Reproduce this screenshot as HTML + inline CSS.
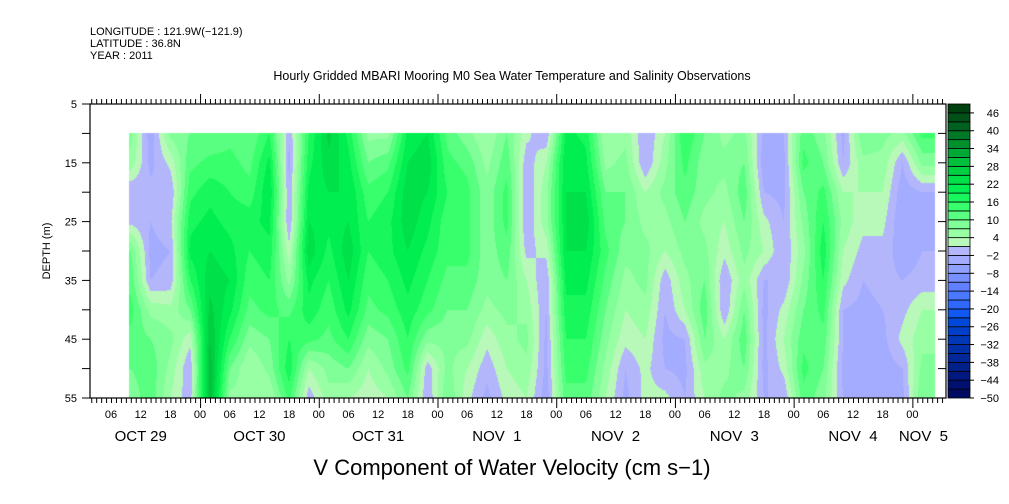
<!DOCTYPE html>
<html><head><meta charset="utf-8">
<style>
html,body{margin:0;padding:0;background:#fff;}
#wrap{position:relative;width:1009px;height:504px;overflow:hidden;font-family:"Liberation Sans",sans-serif;}
#heat{position:absolute;left:0;top:0;}
#svg{position:absolute;left:0;top:0;}
text{font-family:"Liberation Sans",sans-serif;fill:#000;}
</style></head>
<body>
<div id="wrap">
<canvas id="heat" width="1009" height="504"></canvas>
<svg id="svg" width="1009" height="504"></svg>
</div>
<script>
// ---- data ----
const hours = [-14,-10,-6,-2,2,6,10,14,18,22,26,30,34,38,42,46,50,54,58,62,66,70,74,78,82,86,90,94,98,102,106,110,114,118,122,126,130,134,138,142,146];
const depths = [10,15,20,25,30,35,40,45,50,55];
const values = [
[8,6,-2,0,10,12,14,12,10,8],
[-4,-3,-1,-2,-3,-2,6,10,12,12],
[8,2,-2,0,-2,-1,5,8,6,4],
[10,12,15,18,20,16,10,2,-2,-1],
[10,14,18,20,22,24,26,28,30,30],
[12,14,16,18,20,22,20,16,10,6],
[10,12,14,18,16,14,12,8,4,6],
[16,20,22,20,18,16,14,10,8,4],
[-2,-3,-2,-2,2,6,12,16,18,14],
[16,18,20,22,24,20,18,14,4,-1],
[26,24,22,20,18,16,14,12,8,6],
[18,20,22,22,24,22,20,16,10,4],
[6,10,14,16,16,14,12,8,4,2],
[6,12,16,18,18,16,14,10,8,4],
[20,22,24,24,22,20,18,16,14,10],
[22,24,22,20,18,16,14,8,-1,-2],
[12,14,16,14,14,12,10,8,8,10],
[8,12,14,14,14,12,10,8,4,2],
[4,6,8,8,8,8,6,2,-1,-3],
[10,12,14,14,12,10,8,6,4,2],
[2,-1,-2,-2,0,4,6,8,6,4],
[-2,4,6,6,2,-2,-2,-3,-3,-4],
[20,22,22,22,22,20,18,16,14,12],
[18,20,22,24,22,20,18,16,14,12],
[4,6,10,12,14,12,10,8,6,4],
[6,8,10,10,8,6,4,2,-2,-3],
[-2,-2,4,6,8,8,6,4,2,2],
[4,6,8,6,4,-1,-2,-3,-2,2],
[16,14,12,10,8,6,4,-2,-3,-2],
[10,8,8,6,8,10,12,10,6,4],
[6,8,6,4,2,-2,-2,4,6,8],
[8,10,12,10,8,6,10,12,10,6],
[-3,-4,-2,2,4,-2,-3,-3,-3,-2],
[-2,-3,-3,-2,-2,-2,2,4,2,-2],
[12,14,10,8,6,8,10,12,14,12],
[8,10,14,16,18,16,14,12,10,8],
[-3,-2,4,6,4,2,-2,-2,-3,-2],
[10,6,4,2,0,-2,-3,-3,-3,-2],
[8,6,4,2,0,-1,-2,-3,-4,-3],
[6,-2,-4,-5,-4,-2,0,2,-2,-3],
[14,8,-2,-4,-2,-1,4,6,8,10]
];
const cbarLabels = [-50,-44,-38,-32,-26,-20,-14,-8,-2,4,10,16,22,28,34,40,46];
const dayLabels = ["OCT 29","OCT 30","OCT 31","NOV  1","NOV  2","NOV  3","NOV  4","NOV  5"];
const depthTicks = [5,15,25,35,45,55];

// ---- layout ----
const X0=90,X1=946,Y0=104,Y1=398;
const HMIN=-22.25,HMAX=150.8;
const DMIN=5,DMAX=55;
const xs=h=>X0+(h-HMIN)/(HMAX-HMIN)*(X1-X0);
const ys=d=>Y0+(d-DMIN)/(DMAX-DMIN)*(Y1-Y0);
const VMIN=-50,STEP=3,NB=33;
const colors=["#000a60","#001070","#00187f","#00208a","#002898","#0030a8","#0038b8","#0040c8","#0048d8","#1058f0","#3068ff","#4a78ff","#6080ff","#7890ff","#90a0ff","#a4acff","#b4b6fc",
"#b8f8b8","#98ffa4","#80ff98","#58ff80","#38ff6c","#18f85c","#00ee50","#00e048","#00d040","#00c03c","#00a834","#00902c","#007826","#006020","#005018","#004010"];
function hex(c){return [parseInt(c.substr(1,2),16),parseInt(c.substr(3,2),16),parseInt(c.substr(5,2),16)];}
const rgb=colors.map(hex);

// ---- heatmap ----
const cv=document.getElementById('heat');const ctx=cv.getContext('2d');
const xa=Math.round(xs(hours[0])-2), xb=Math.round(xs(hours[hours.length-1])+13);
const ya=Math.round(ys(depths[0])), yb=Math.round(ys(depths[depths.length-1]));
const img=ctx.createImageData(xb-xa,yb-ya);
for(let px=xa;px<xb;px++){
  const h=HMIN+(px+0.5-X0)/(X1-X0)*(HMAX-HMIN);
  let i=0;while(i<hours.length-2&&hours[i+1]<h)i++;
  let tx=(h-hours[i])/(hours[i+1]-hours[i]);tx=Math.max(0,Math.min(1,tx));
  for(let py=ya;py<yb;py++){
    const d=DMIN+(py+0.5-Y0)/(Y1-Y0)*(DMAX-DMIN);
    let j=0;while(j<depths.length-2&&depths[j+1]<d)j++;
    let ty=(d-depths[j])/(depths[j+1]-depths[j]);ty=Math.max(0,Math.min(1,ty));
    const v=(1-tx)*((1-ty)*values[i][j]+ty*values[i][j+1])+tx*((1-ty)*values[i+1][j]+ty*values[i+1][j+1]);
    let k=Math.floor((v-VMIN)/STEP);k=Math.max(0,Math.min(NB-1,k));
    const o=((py-ya)*(xb-xa)+(px-xa))*4;const c=rgb[k];
    img.data[o]=c[0];img.data[o+1]=c[1];img.data[o+2]=c[2];img.data[o+3]=255;
  }
}
ctx.putImageData(img,xa,ya);

// ---- svg ----
const NS="http://www.w3.org/2000/svg";const svg=document.getElementById('svg');
function el(tag,attrs,parent){const e=document.createElementNS(NS,tag);for(const k in attrs)e.setAttribute(k,attrs[k]);(parent||svg).appendChild(e);return e;}
function txt(x,y,s,size,anchor,parent){const t=el('text',{x:x,y:y,'font-size':size,'text-anchor':anchor||'start'},parent);t.textContent=s;t.setAttribute('xml:space','preserve');t.style.whiteSpace='pre';return t;}

const hdr=el('g',{});
txt(90,35,"LONGITUDE : 121.9W(\u2212121.9)",11,'start',hdr);
txt(90,47,"LATITUDE : 36.8N",11,'start',hdr);
txt(90,59,"YEAR : 2011",11,'start',hdr);
const tt=txt(512,80,"Hourly Gridded MBARI Mooring M0 Sea Water Temperature and Salinity Observations",12.5,'middle');


const frame=el('rect',{x:X0,y:Y0,width:X1-X0,height:Y1-Y0,fill:'none',stroke:'#000','stroke-width':1.2});


const xax=el('g',{stroke:'#000','stroke-width':1});
for(let h=Math.ceil(HMIN);h<=HMAX;h++){
  const x=xs(h)+0.5;const major=((h%24)+24)%24===0;const L=major?10:5;
  el('line',{x1:x,x2:x,y1:Y1,y2:Y1+L},xax);
  el('line',{x1:x,x2:x,y1:Y0,y2:Y0-L},xax);
}
const xl=el('g',{});
for(let h=Math.ceil(HMIN/6)*6;h<=HMAX;h+=6){
  if(xs(h)>X1-12) continue;
  const hh=((h%24)+24)%24;txt(xs(h),418,(hh<10?"0":"")+hh,11,'middle',xl);
}
const dl=el('g',{});
dayLabels.forEach((s,i)=>{const h=-12+24*i;
  if(xs(h)+28<X1+5) txt(xs(h),441,s,15,'middle',dl); else txt(948,441,s,15,'end',dl);});

const yax=el('g',{stroke:'#000','stroke-width':1});
for(let d=5;d<=55;d+=5){const y=ys(d);el('line',{x1:X0-8,x2:X0,y1:y,y2:y},yax);el('line',{x1:X1-8,x2:X1,y1:y,y2:y},yax);}
const yl=el('g',{});
depthTicks.forEach(d=>txt(77,ys(d)+4,String(d),11,'end',yl));
const yt=txt(0,0,"DEPTH (m)",11,'middle');yt.setAttribute('transform','translate(50,'+((Y0+Y1)/2)+') rotate(-90)');


const xt=txt(512,475,"V Component of Water Velocity (cm s\u22121)",22,'middle');


// colorbar
const cb=el('g',{});
const CX=948,CW=22,bh=(Y1-Y0)/NB;
for(let i=0;i<NB;i++){
  const r=el('rect',{x:CX,y:Y1-(i+1)*bh,width:CW,height:bh,fill:colors[i],stroke:'#000','stroke-width':0.8},cb);
  
}
cbarLabels.forEach(v=>{const y=Y1-(v-VMIN)/STEP*bh;
  el('line',{x1:CX+CW,x2:CX+CW+4,y1:y,y2:y,stroke:'#000'},cb);
  txt(999,y+4,v<0?"\u2212"+(-v):String(v),11,'end',cb);});
</script>
</body></html>
